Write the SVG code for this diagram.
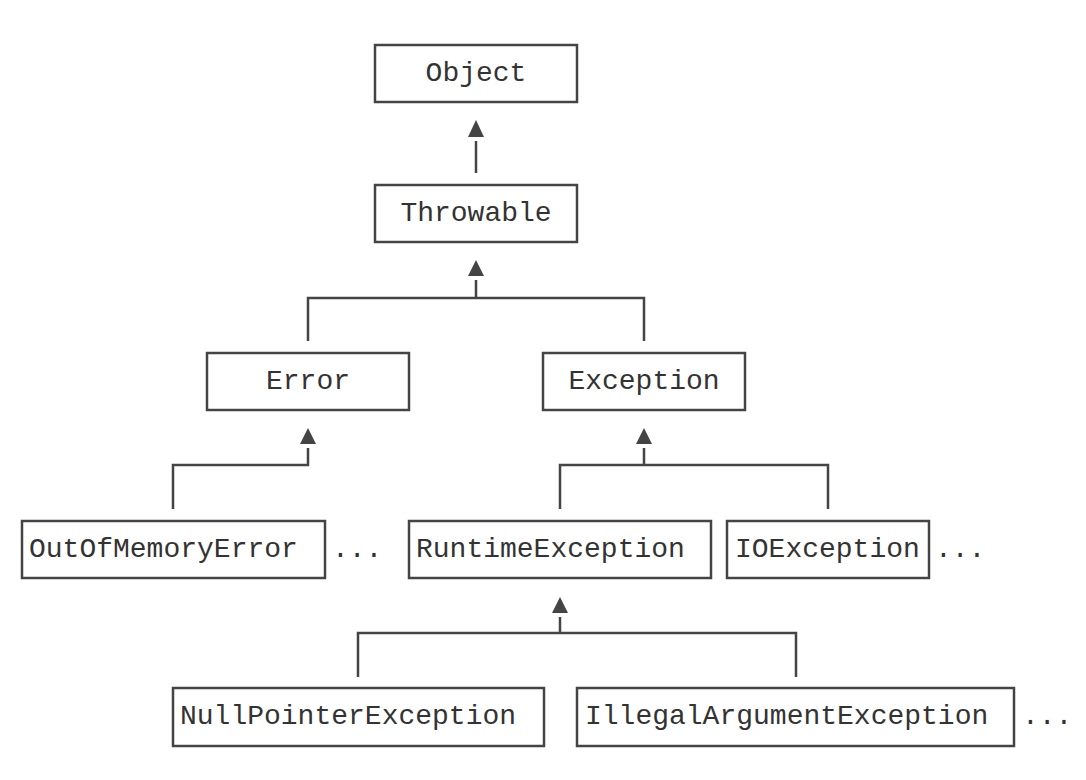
<svg xmlns="http://www.w3.org/2000/svg" width="1086" height="780" viewBox="0 0 1086 780">
<style>
.box{fill:#fff;stroke:#444;stroke-width:2.5}
.t{font-family:"Liberation Mono","Courier New",monospace;font-size:28px;fill:#333}
.c{text-anchor:middle}
.ln{fill:none;stroke:#444;stroke-width:2.5}
.ah{fill:#444}
</style>
<rect width="1086" height="780" fill="#fff"/>
<g id="connectors">
<polygon class="ah" points="476,120 468,137 484,137"/>
<path class="ln" d="M476 141V173"/>
<polygon class="ah" points="476,260 468,276 484,276"/>
<path class="ln" d="M476 280V298M308 341V298H644V341"/>
<polygon class="ah" points="308,428 300,444 316,444"/>
<path class="ln" d="M308 448V465H173V509"/>
<polygon class="ah" points="644,428 636,444 652,444"/>
<path class="ln" d="M644 448V465M560 509V465H828V509"/>
<polygon class="ah" points="560,597 552,613 568,613"/>
<path class="ln" d="M560 617V633M358 677V633H796V677"/>
</g>
<g id="object"><rect class="box" x="375" y="45" width="202" height="57"/><text class="t c" x="476" y="81">Object</text></g>
<g id="throwable"><rect class="box" x="375" y="185" width="202" height="57"/><text class="t c" x="476" y="221">Throwable</text></g>
<g id="error"><rect class="box" x="207" y="353" width="202" height="57"/><text class="t c" x="308" y="389">Error</text></g>
<g id="exception"><rect class="box" x="543" y="353" width="202" height="57"/><text class="t c" x="644" y="389">Exception</text></g>
<g id="oome"><rect class="box" x="22" y="521" width="303" height="57"/><text class="t" x="29" y="557">OutOfMemoryError</text></g>
<text class="t" x="332" y="557">...</text>
<g id="runtime"><rect class="box" x="409" y="521" width="302" height="57"/><text class="t" x="416" y="557">RuntimeException</text></g>
<g id="ioexception"><rect class="box" x="727" y="521" width="202" height="57"/><text class="t" x="735" y="557">IOException</text></g>
<text class="t" x="935" y="557">...</text>
<g id="npe"><rect class="box" x="173" y="688" width="371" height="58"/><text class="t" x="180" y="724">NullPointerException</text></g>
<g id="iae"><rect class="box" x="577" y="688" width="437" height="58"/><text class="t" x="585" y="724">IllegalArgumentException</text></g>
<text class="t" x="1022" y="724">...</text>
</svg>
